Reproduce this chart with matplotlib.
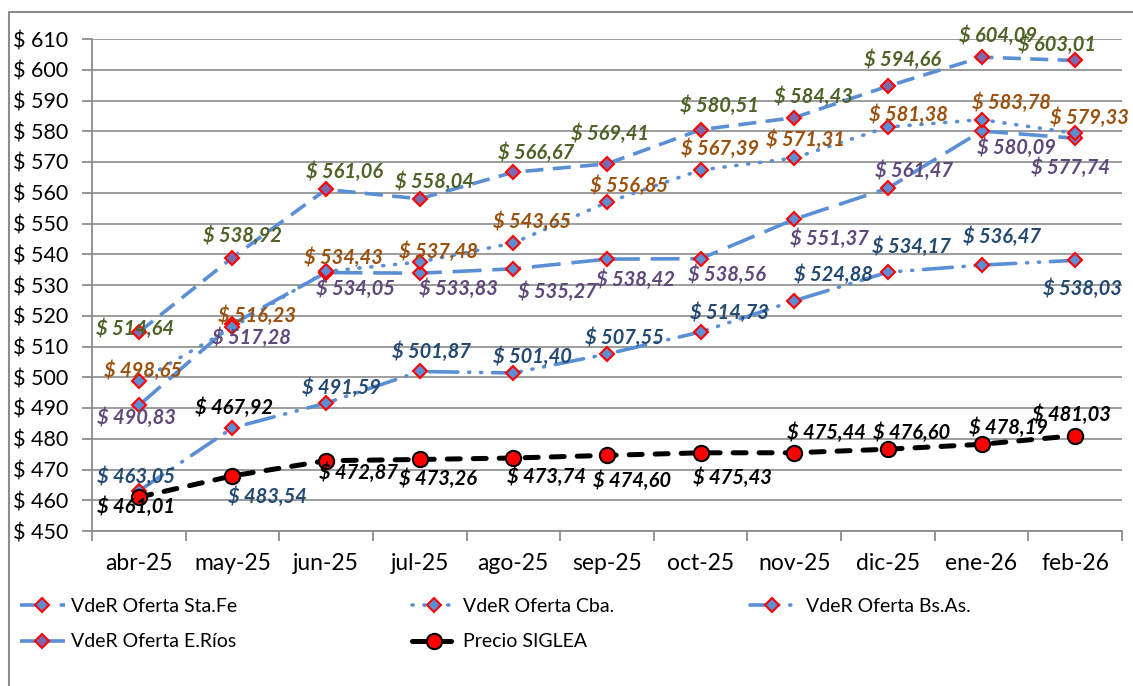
import matplotlib
matplotlib.use('Agg')
import matplotlib.pyplot as plt
from matplotlib.lines import Line2D

# categories and series values
months = ["abr-25", "may-25", "jun-25", "jul-25", "ago-25", "sep-25",
          "oct-25", "nov-25", "dic-25", "ene-26", "feb-26"]
sta_fe = [490.83, 517.28, 534.05, 533.83, 535.27, 538.42, 538.56, 551.37, 561.47, 580.09, 577.74]
cba = [498.65, 516.23, 534.43, 537.48, 543.65, 556.85, 567.39, 571.31, 581.38, 583.78, 579.33]
bs_as = [463.05, 483.54, 491.59, 501.87, 501.40, 507.55, 514.73, 524.88, 534.17, 536.47, 538.03]
e_rios = [514.64, 538.92, 561.06, 558.04, 566.67, 569.41, 580.51, 584.43, 594.66, 604.09, 603.01]
siglea = [461.01, 467.92, 472.87, 473.26, 473.74, 474.60, 475.43, 475.44, 476.60, 478.19, 481.03]
yticks = list(range(450, 611, 10))

# label offsets in pixels (dx, dy) relative to each point
off_sta_fe = [(-2, -12), (19, -14), (29, -16), (39, -15), (44, -23), (28, -21),
              (26, -16), (35, -19), (26, 18), (35, -17), (-5, -30)]
off_cba = [(4, 11), (25, 12), (17, 14), (19, 10), (19, 21), (22, 17),
           (19, 21), (11, 18), (21, 12), (30, 17), (14, 16)]
off_bs_as = [(-3, 14), (35, -69), (15, 15), (12, 20), (19, 16), (17, 16),
             (29, 19), (39, 26), (24, 25), (20, 28), (7, -28)]
off_e_rios = [(-4, 4), (10, 22), (18, 18), (15, 17), (23, 20), (3, 30),
              (19, 24), (19, 21), (15, 26), (16, 21), (-18, 16)]
off_siglea = [(-3, -10), (2, 68), (32, -12), (18, -19), (33, -19), (25, -25),
              (32, -25), (32, 20), (24, 17), (27, 17), (-4, 21)]

blue = '#5B8FD5'
fig = plt.figure(figsize=(11.33, 6.86), dpi=100)
ax = fig.add_axes([92 / 1133, 1 - 531 / 686, (1122 - 92) / 1133, (531 - 39) / 686])

x = list(range(len(months)))
common = dict(color=blue, lw=2.6, marker='D', markersize=7.5,
              markeredgecolor='red', markeredgewidth=1.5, markerfacecolor=blue)

l_stafe, = ax.plot(x, sta_fe, linestyle=(0, (8, 3)), label='VdeR Oferta Sta.Fe', **common)
l_cba, = ax.plot(x, cba, linestyle=(0, (0.3, 3)), dash_capstyle='round', label='VdeR Oferta Cba.', **common)
l_bsas, = ax.plot(x, bs_as, linestyle=(0, (8, 3, 0.3, 3, 0.3, 3)), dash_capstyle='round',
                  label=' VdeR Oferta Bs.As.', **common)
c2 = dict(common)
c2['markerfacecolor'] = '#7B6AAE'
l_erios, = ax.plot(x, e_rios, linestyle=(0, (5, 2.6)), label='VdeR Oferta E.Ríos', **c2)
l_sig, = ax.plot(x, siglea, color='black', lw=3.6, linestyle=(0, (2.6, 2.6)), dash_capstyle='round',
                 marker='o', markersize=11, markerfacecolor='red', markeredgecolor='black',
                 markeredgewidth=1.5, label='Precio SIGLEA', zorder=5)

lab_font = dict(family='Lato', weight='bold', style='italic', size=14.5)


def fmt(v):
    return "$ " + f"{v:.2f}".replace('.', ',')


for vals, offs, col in [(e_rios, off_e_rios, '#4F6228'), (cba, off_cba, '#9A520E'),
                        (sta_fe, off_sta_fe, '#5F497A'), (bs_as, off_bs_as, '#244A72'),
                        (siglea, off_siglea, 'black')]:
    for i, v in enumerate(vals):
        ax.annotate(fmt(v), (i, v), xytext=offs[i], textcoords='offset pixels',
                    ha='center', va='center', color=col, zorder=10, **lab_font)

ax.set_xlim(-0.5, len(months) - 0.5)
ax.set_ylim(450, 610)
ax.set_yticks(yticks)
ax.set_yticklabels(["$ " + str(t) for t in yticks], family='Lato', size=15.5)
ax.set_xticks(x)
ax.set_xticklabels(months, family='Lato', size=16.5)
ax.set_xticks([i - 0.5 for i in range(len(months) + 1)], minor=True)
ax.tick_params(axis='x', which='major', length=0, pad=16)
ax.tick_params(axis='x', which='minor', length=7, width=1.3, color='#8C8C8C')
ax.tick_params(axis='y', length=7, width=1.3, color='#8C8C8C', pad=10)
ax.grid(axis='y', color='#8C8C8C', lw=1.2)
ax.set_axisbelow(True)
for s in ['top', 'right']:
    ax.spines[s].set_visible(False)
for s in ['left', 'bottom']:
    ax.spines[s].set_color('#8C8C8C')
    ax.spines[s].set_linewidth(1.3)

leg_kw = dict(frameon=False, numpoints=1, handlelength=2.3, labelspacing=0.95,
              prop=dict(family='Lato', size=14), loc='upper left', handletextpad=0.3,
              borderaxespad=0, borderpad=0)
ly = 1 - 598 / 686
fig.legend([l_stafe, l_erios], ['VdeR Oferta Sta.Fe', 'VdeR Oferta E.Ríos'],
           bbox_to_anchor=(20 / 1133, ly), **leg_kw)
fig.legend([l_cba, l_sig], ['VdeR Oferta Cba.', 'Precio SIGLEA'],
           bbox_to_anchor=(412 / 1133, ly), **leg_kw)
fig.legend([l_bsas], [' VdeR Oferta Bs.As.'],
           bbox_to_anchor=(750 / 1133, ly), **leg_kw)

# outer chart border (left and top)
fig.add_artist(Line2D([9 / 1133, 9 / 1133, 1], [0, 1 - 12 / 686, 1 - 12 / 686],
                      transform=fig.transFigure, color='#8C8C8C', lw=1.5))

fig.savefig('out.png', dpi=100)
